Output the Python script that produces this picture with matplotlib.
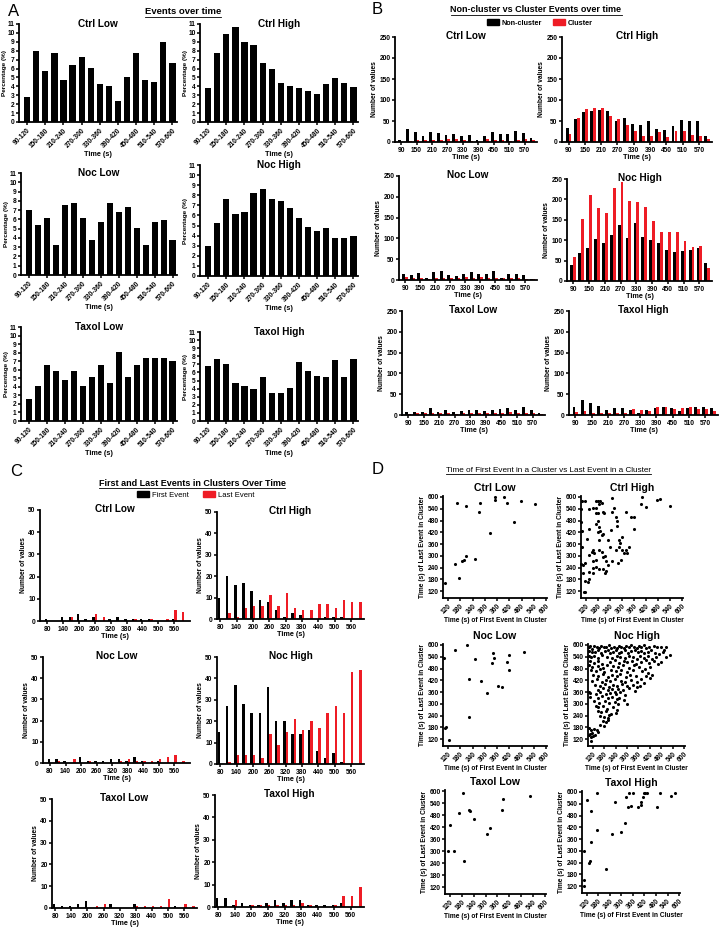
import numpy as np
import matplotlib
matplotlib.use("Agg")
import matplotlib.pyplot as plt
from matplotlib.patches import Patch
from matplotlib.lines import Line2D

plt.rcParams['font.family'] = ['Liberation Sans', 'DejaVu Sans']
plt.rcParams['font.weight'] = 'bold'
plt.rcParams['axes.labelweight'] = 'bold'

RED = '#ee1c25'

# ---------------- data ----------------
# panel A: percentage of events per 30 s bin
bins_a = ['90-120', '120-150', '150-180', '180-210', '210-240', '240-270', '270-300',
          '300-330', '330-360', '360-390', '390-420', '420-450', '450-480', '480-510',
          '510-540', '540-570', '570-600']
ctrl_low_pct = [2.8, 8.0, 5.7, 7.8, 4.7, 6.4, 7.3, 6.1, 4.3, 4.0, 2.4, 5.0, 7.8, 4.7, 4.5, 9.0, 6.6]
ctrl_high_pct = [3.8, 7.8, 9.9, 10.7, 9.0, 8.6, 6.6, 6.0, 4.4, 4.0, 3.8, 3.5, 3.1, 4.3, 4.9, 4.4, 3.9]
noc_low_pct = [7.0, 5.4, 6.2, 3.2, 7.6, 7.8, 6.2, 3.8, 5.7, 7.8, 6.8, 7.3, 5.1, 3.2, 5.7, 5.9, 3.8]
noc_high_pct = [3.0, 5.3, 7.6, 6.1, 6.3, 8.2, 8.6, 7.6, 7.4, 6.7, 5.7, 4.9, 4.5, 4.8, 3.8, 3.8, 4.0]
taxol_low_pct = [2.6, 4.1, 6.6, 5.9, 4.8, 5.9, 4.1, 5.2, 6.6, 4.4, 8.1, 5.2, 6.6, 7.4, 7.4, 7.4, 7.0]
taxol_high_pct = [6.8, 7.7, 7.0, 4.7, 4.3, 3.9, 5.4, 3.5, 3.5, 4.1, 7.3, 6.2, 5.6, 5.5, 7.6, 5.5, 7.7]

# panel B: non-cluster vs cluster counts
times_b = [90, 120, 150, 180, 210, 240, 270, 300, 330, 360, 390, 420, 450, 480, 510, 540, 570, 600]
ctrl_low_non = [5, 30, 24, 15, 25, 21, 17, 20, 14, 16, 5, 15, 24, 20, 18, 27, 22, 10]
ctrl_low_clu = [1, 3, 4, 5, 5, 5, 8, 6, 5, 3, 1, 6, 5, 5, 3, 5, 8, 4]
ctrl_high_non = [33, 54, 72, 75, 76, 73, 51, 57, 42, 40, 51, 31, 29, 38, 53, 51, 51, 15]
ctrl_high_clu = [19, 57, 79, 80, 80, 61, 54, 40, 27, 15, 15, 24, 11, 27, 26, 17, 15, 6]
noc_low_non = [14, 12, 16, 6, 20, 22, 13, 10, 15, 19, 15, 15, 22, 6, 14, 15, 12, 3]
noc_low_clu = [8, 6, 6, 3, 5, 6, 4, 6, 8, 6, 8, 6, 4, 5, 5, 6, 3, 2]
noc_high_non = [38, 69, 81, 104, 94, 113, 137, 105, 142, 108, 100, 94, 75, 71, 74, 77, 80, 45]
noc_high_clu = [58, 153, 212, 180, 166, 228, 242, 195, 194, 182, 148, 119, 121, 121, 98, 84, 85, 31]
taxol_low_non = [7, 7, 8, 16, 7, 12, 7, 10, 12, 11, 10, 13, 15, 16, 13, 20, 13, 4]
taxol_low_clu = [3, 4, 4, 4, 4, 6, 3, 6, 5, 5, 6, 5, 5, 7, 4, 5, 5, 2]
taxol_high_non = [20, 35, 28, 21, 13, 18, 18, 11, 6, 11, 16, 19, 16, 9, 16, 19, 20, 16]
taxol_high_clu = [7, 9, 6, 5, 6, 5, 4, 14, 11, 10, 20, 19, 14, 16, 20, 15, 14, 9]

# panel C: first / last events in clusters
times_c = [80, 110, 140, 170, 200, 230, 260, 290, 320, 350, 380, 410, 440, 470, 500, 530, 560, 590]
ctrl_low_first = [1, 0, 2, 2, 3, 1, 2, 0, 1, 2, 1, 1, 1, 1, 0, 0, 1, 0]
ctrl_low_last = [0, 0, 0, 2, 0, 0, 3, 2, 0, 0, 0, 1, 0, 1, 0, 1, 5, 4]
ctrl_high_first = [10, 20, 16, 17, 13, 9, 8, 4, 1, 3, 2, 0, 0, 1, 1, 1, 0, 0]
ctrl_high_last = [0, 3, 1, 5, 6, 6, 11, 6, 12, 5, 4, 4, 7, 7, 5, 9, 8, 8]
noc_low_first = [2, 2, 1, 0, 3, 1, 1, 1, 2, 2, 1, 3, 1, 0, 1, 0, 0, 0]
noc_low_last = [0, 1, 0, 2, 0, 1, 0, 0, 0, 1, 2, 1, 1, 1, 2, 3, 4, 1]
noc_high_first = [15, 27, 37, 28, 24, 24, 36, 20, 20, 14, 14, 16, 6, 3, 5, 1, 0, 0]
noc_high_last = [0, 1, 4, 4, 4, 3, 14, 9, 15, 21, 16, 20, 17, 24, 27, 24, 43, 44]
taxol_low_first = [2, 1, 1, 2, 3, 0, 0, 2, 0, 0, 2, 0, 0, 0, 0, 1, 0, 0]
taxol_low_last = [0, 0, 0, 0, 0, 1, 2, 0, 0, 0, 1, 1, 1, 1, 4, 0, 2, 1]
taxol_high_first = [4, 4, 1, 2, 1, 1, 2, 3, 2, 3, 3, 1, 1, 1, 1, 2, 0, 0]
taxol_high_last = [0, 0, 3, 0, 1, 1, 1, 1, 1, 1, 2, 1, 0, 0, 1, 5, 5, 9]

# panel D: (first event time, last event time) per cluster
ctrl_low_pts = [(103, 164), (162, 570), (153, 256), (172, 186), (207, 553), (190, 273), (200, 281),
                (207, 300), (250, 283), (270, 524), (278, 570), (325, 414), (348, 598), (348, 585),
                (392, 600), (408, 570), (442, 474), (478, 582), (545, 565)]
ctrl_high_pts = [(100, 582), (117, 578), (95, 537), (137, 537), (153, 545), (170, 545), (95, 474),
                 (100, 429), (137, 437), (100, 347), (125, 385), (95, 256), (103, 252), (117, 264),
                 (103, 214), (137, 220), (153, 210), (117, 173), (128, 165), (137, 180), (110, 118),
                 (117, 118), (137, 305), (148, 322), (153, 330), (160, 312), (153, 272), (170, 280),
                 (153, 239), (170, 244), (186, 231), (170, 516), (180, 520), (170, 578), (180, 582),
                 (186, 562), (170, 463), (180, 476), (186, 445), (180, 421), (186, 380), (198, 405),
                 (203, 412), (190, 429), (186, 330), (200, 322), (203, 294), (216, 300), (203, 231),
                 (214, 214), (219, 223), (203, 521), (211, 516), (190, 578), (200, 570), (219, 272),
                 (232, 255), (248, 272), (228, 380), (240, 345), (245, 430), (252, 521), (252, 595),
                 (260, 545), (269, 496), (277, 480), (273, 454), (286, 380), (292, 363), (302, 396),
                 (269, 330), (286, 345), (302, 330), (310, 314), (278, 264), (295, 280), (319, 521),
                 (344, 499), (360, 499), (360, 438), (325, 314), (318, 330), (335, 345), (393, 562),
                 (400, 600), (421, 549), (473, 587), (492, 592), (542, 554)]
noc_low_pts = [(100, 532), (108, 180), (105, 178), (125, 116), (153, 573), (212, 598), (223, 232),
               (223, 427), (250, 530), (282, 414), (313, 354), (333, 509), (340, 557), (345, 535),
               (367, 391), (383, 388), (408, 515), (417, 550), (420, 470), (490, 564)]
noc_high_pts = [
    (100, 588), (108, 594), (118, 582), (128, 596), (140, 590), (152, 584), (165, 597), (178, 588),
    (190, 592), (205, 598), (218, 585), (230, 592), (245, 587), (258, 596), (270, 590), (283, 583),
    (295, 595), (308, 588), (322, 598), (335, 590), (350, 584), (362, 596), (376, 590), (390, 598),
    (402, 585), (418, 592), (440, 596), (458, 588), (480, 592), (495, 575), (505, 590),
    (102, 570), (115, 562), (130, 566), (148, 572), (165, 560), (182, 568), (198, 575), (212, 560),
    (228, 566), (242, 572), (256, 558), (270, 566), (288, 572), (305, 560), (322, 568), (340, 574),
    (358, 562), (375, 570), (392, 558), (408, 566), (425, 572), (445, 560), (468, 556), (490, 566),
    (525, 550),
    (100, 545), (112, 538), (128, 542), (148, 535), (170, 548), (195, 540), (222, 535), (245, 545),
    (265, 538), (288, 532), (308, 545), (330, 538), (350, 530), (368, 542), (388, 536), (410, 545),
    (432, 530), (452, 540), (478, 512), (505, 540),
    (105, 518), (125, 510), (148, 520), (168, 505), (212, 515), (238, 522), (258, 508), (282, 518),
    (300, 512), (328, 520), (345, 505), (372, 515), (398, 522), (418, 508), (440, 520), (462, 505),
    (100, 498), (118, 490), (150, 495), (175, 485), (195, 500), (228, 492), (255, 488), (280, 496),
    (312, 484), (338, 498), (362, 490), (395, 480), (420, 486),
    (110, 472), (135, 468), (160, 478), (180, 462), (215, 474), (240, 466), (268, 470), (300, 460),
    (332, 474), (380, 468), (408, 455), (432, 445),
    (120, 448), (145, 440), (172, 452), (200, 438), (222, 446), (248, 440), (262, 452), (295, 436),
    (318, 448), (345, 440), (372, 428), (400, 440), (420, 432),
    (115, 418), (140, 425), (168, 412), (192, 422), (210, 415), (235, 426), (270, 418), (288, 410),
    (320, 420), (355, 412), (392, 408),
    (130, 398), (158, 392), (182, 400), (205, 388), (225, 396), (250, 390), (275, 402), (300, 392),
    (330, 398), (350, 385), (370, 392),
    (148, 372), (172, 380), (198, 368), (220, 376), (235, 362), (255, 378), (280, 372), (312, 380),
    (340, 366),
    (100, 362), (108, 356), (138, 352), (160, 358), (188, 348), (212, 355), (240, 350), (262, 358),
    (292, 345),
    (105, 335), (150, 330), (168, 338), (200, 328), (222, 336), (245, 325), (258, 332), (285, 322),
    (128, 312), (155, 305), (182, 315), (208, 302), (238, 310), (252, 300), (300, 298),
    (135, 290), (150, 282), (172, 288), (195, 276), (225, 284), (248, 270),
    (148, 265), (165, 258), (192, 262), (215, 250), (240, 255),
    (160, 240), (178, 232), (198, 228), (205, 245),
    (172, 215), (190, 208), (200, 220),
    (160, 192), (178, 188),
    (100, 175), (110, 168), (125, 172), (140, 165), (145, 155),
    (105, 148), (118, 152), (130, 142),
    (100, 140), (112, 130), (120, 135),
    (110, 112)]
taxol_low_pts = [(111, 300), (120, 432), (139, 302), (164, 492), (187, 590), (190, 250), (218, 503),
                 (222, 498), (239, 462), (309, 387), (323, 417), (383, 503), (388, 562), (523, 577)]
taxol_high_pts = [(103, 123), (105, 152), (108, 299), (120, 557), (134, 240), (137, 247), (141, 502),
                  (142, 347), (175, 593), (175, 407), (220, 209), (267, 550), (249, 388), (298, 395),
                  (318, 443), (322, 574), (341, 593), (332, 521), (348, 531), (361, 597), (387, 523),
                  (401, 533), (404, 550), (413, 574), (417, 593), (422, 593), (434, 597), (487, 523),
                  (499, 597), (556, 582), (577, 593)]

# ---------------- layout helpers ----------------
W, H = 719, 932
fig = plt.figure(figsize=(W / 100, H / 100), dpi=100)


def px_axes(x0, y0, x1, y1):
    return fig.add_axes([x0 / W, 1 - y1 / H, (x1 - x0) / W, (y1 - y0) / H])


def prism(ax):
    for s in ['top', 'right']:
        ax.spines[s].set_visible(False)
    for s in ['left', 'bottom']:
        ax.spines[s].set_linewidth(1.3)
    ax.tick_params(width=1.1, length=2.5, labelsize=4.8, pad=1)
    ax.tick_params(axis='y', pad=0.6)


def sub_title(ax, text, y=1.0, size=7.2):
    ax.text(0.5, y, text, transform=ax.transAxes, ha='center', va='center',
            fontsize=size, fontweight='bold')


def bar_a(rect, title, vals):
    ax = px_axes(*rect)
    x = np.arange(len(vals))
    ax.bar(x, vals, width=0.68, color='black')
    ax.set_xlim(-0.9, len(vals) - 0.5)
    ax.set_ylim(0, 11)
    ax.set_yticks(range(0, 12))
    ax.set_xticks(x[::2])
    ax.set_xticklabels(bins_a[::2], rotation=45, ha='right', rotation_mode='anchor')
    ax.set_ylabel('Percentage (%)', fontsize=4.6, labelpad=0)
    ax.set_xlabel('Time (s)', fontsize=5.2, labelpad=1)
    prism(ax)
    sub_title(ax, title)


def bar_pair(rect, title, black, red, times, ymax, ystep, w, xlim):
    ax = px_axes(*rect)
    x = np.arange(len(black))
    ax.bar(x - w / 2, black, width=w, color='black')
    ax.bar(x + w / 2, red, width=w, color=RED)
    ax.set_xlim(*xlim)
    ax.set_ylim(0, ymax)
    ax.set_yticks(range(0, ymax + 1, ystep))
    ax.set_xticks(x[:17:2])
    ax.set_xticklabels([str(t) for t in times[:17:2]])
    ax.set_ylabel('Number of values', fontsize=4.8, labelpad=1)
    ax.set_xlabel('Time (s)', fontsize=5.2, labelpad=0)
    prism(ax)
    sub_title(ax, title, y=1.01)


def scatter_d(rect, title, pts):
    ax = px_axes(*rect)
    first = [p[0] for p in pts]
    last = [p[1] for p in pts]
    ax.scatter(first, last, s=5, c='black', linewidths=0, clip_on=False)
    ax.set_xlim(95, 605)
    ax.set_ylim(85, 605)
    ticks = list(range(120, 601, 60))
    ax.set_xticks(ticks)
    ax.set_yticks(ticks)
    ax.set_xticklabels([str(t) for t in ticks], rotation=45, ha='right', rotation_mode='anchor')
    ax.set_xlabel('Time (s) of First Event in Cluster', fontsize=4.8, labelpad=1)
    ax.set_ylabel('Time (s) of Last Event in Cluster', fontsize=4.8, labelpad=1)
    prism(ax)
    sub_title(ax, title, y=1.08, size=7.5)


# ---------------- panel A ----------------
bar_a((19, 24, 177, 122), 'Ctrl Low', ctrl_low_pct)
bar_a((200, 24, 358, 122), 'Ctrl High', ctrl_high_pct)
bar_a((21, 173, 177, 275), 'Noc Low', noc_low_pct)
bar_a((200, 165, 358, 276), 'Noc High', noc_high_pct)
bar_a((21, 327, 177, 421), 'Taxol Low', taxol_low_pct)
bar_a((200, 332, 358, 421), 'Taxol High', taxol_high_pct)

# ---------------- panel B ----------------
xb = (-0.8, 17.6)
bar_pair((395, 37, 537, 142), 'Ctrl Low', ctrl_low_non, ctrl_low_clu, times_b, 250, 50, 0.36, xb)
bar_pair((562, 37, 712, 142), 'Ctrl High', ctrl_high_non, ctrl_high_clu, times_b, 250, 50, 0.36, xb)
bar_pair((399, 176, 537, 280), 'Noc Low', noc_low_non, noc_low_clu, times_b, 250, 50, 0.36, xb)
bar_pair((567, 179, 712, 281), 'Noc High', noc_high_non, noc_high_clu, times_b, 250, 50, 0.36, xb)
bar_pair((402, 311, 545, 415), 'Taxol Low', taxol_low_non, taxol_low_clu, times_b, 250, 50, 0.36, xb)
bar_pair((569, 311, 718, 415), 'Taxol High', taxol_high_non, taxol_high_clu, times_b, 250, 50, 0.36, xb)

# ---------------- panel C ----------------
xc_l = (-0.9, 18.0)
xc_r = (-0.4, 17.6)
bar_pair((40, 510, 190, 621), 'Ctrl Low', ctrl_low_first, ctrl_low_last, times_c, 50, 10, 0.3, xc_l)
bar_pair((217, 512, 364, 619), 'Ctrl High', ctrl_high_first, ctrl_high_last, times_c, 50, 10, 0.3, xc_r)
bar_pair((43, 657, 190, 763), 'Noc Low', noc_low_first, noc_low_last, times_c, 50, 10, 0.3, xc_l)
bar_pair((217, 657, 364, 764), 'Noc High', noc_high_first, noc_high_last, times_c, 50, 10, 0.3, xc_r)
bar_pair((52, 799, 197, 908), 'Taxol Low', taxol_low_first, taxol_low_last, times_c, 50, 10, 0.3, xc_r)
bar_pair((215, 795, 364, 907), 'Taxol High', taxol_high_first, taxol_high_last, times_c, 50, 10, 0.3, xc_r)

# ---------------- panel D ----------------
scatter_d((443, 496, 547, 598), 'Ctrl Low', ctrl_low_pts)
scatter_d((581, 496, 683, 598), 'Ctrl High', ctrl_high_pts)
scatter_d((443, 644, 547, 746), 'Noc Low', noc_low_pts)
scatter_d((588, 644, 685, 746), 'Noc High', noc_high_pts)
scatter_d((445, 790, 546, 894), 'Taxol Low', taxol_low_pts)
scatter_d((582, 791, 680, 893), 'Taxol High', taxol_high_pts)

# ---------------- letters, section titles, legends ----------------
for letter, (lx, ly) in {'A': (8, 12), 'B': (372, 10), 'C': (10, 472), 'D': (372, 470)}.items():
    fig.text(lx / W, 1 - ly / H, letter, fontsize=12, fontweight='normal', ha='left', va='center')

titles = [
    fig.text(183 / W, 1 - 12 / H, 'Events over time', fontsize=6.8, ha='center', va='center'),
    fig.text(536 / W, 1 - 10 / H, 'Non-cluster vs Cluster Events over time', fontsize=6.5,
             ha='center', va='center'),
    fig.text(192 / W, 1 - 483 / H, 'First and Last Events in Clusters Over Time', fontsize=6.5,
             ha='center', va='center'),
    fig.text(548 / W, 1 - 470 / H, 'Time of First Event in a Cluster vs Last Event in a Cluster',
             fontsize=5.9, ha='center', va='center', fontweight='normal',
             family=['Liberation Sans Narrow', 'Liberation Sans', 'DejaVu Sans']),
]

fig.legend(handles=[Patch(color='black', label='Non-cluster'), Patch(color=RED, label='Cluster')],
           loc='center', bbox_to_anchor=(540 / W, 1 - 23 / H), ncol=2, frameon=False,
           fontsize=5.2, handlelength=1.6, handleheight=0.8, columnspacing=1.5, handletextpad=0.4)
fig.legend(handles=[Patch(color='black', label='First Event'), Patch(color=RED, label='Last Event')],
           loc='center', bbox_to_anchor=(196 / W, 1 - 495 / H), ncol=2, frameon=False,
           prop={'size': 5.5, 'weight': 'normal'}, handlelength=1.6, handleheight=0.8,
           columnspacing=1.8, handletextpad=0.4)

# underline the section titles
fig.canvas.draw()
inv = fig.transFigure.inverted()
for t in titles:
    bb = t.get_window_extent()
    (x0, y0), (x1, _) = inv.transform([(bb.x0, bb.y0 - 0.5), (bb.x1, bb.y0)])
    fig.add_artist(Line2D([x0, x1], [y0, y0], color='black', lw=0.6, transform=fig.transFigure))

fig.savefig('out.png', dpi=100)
